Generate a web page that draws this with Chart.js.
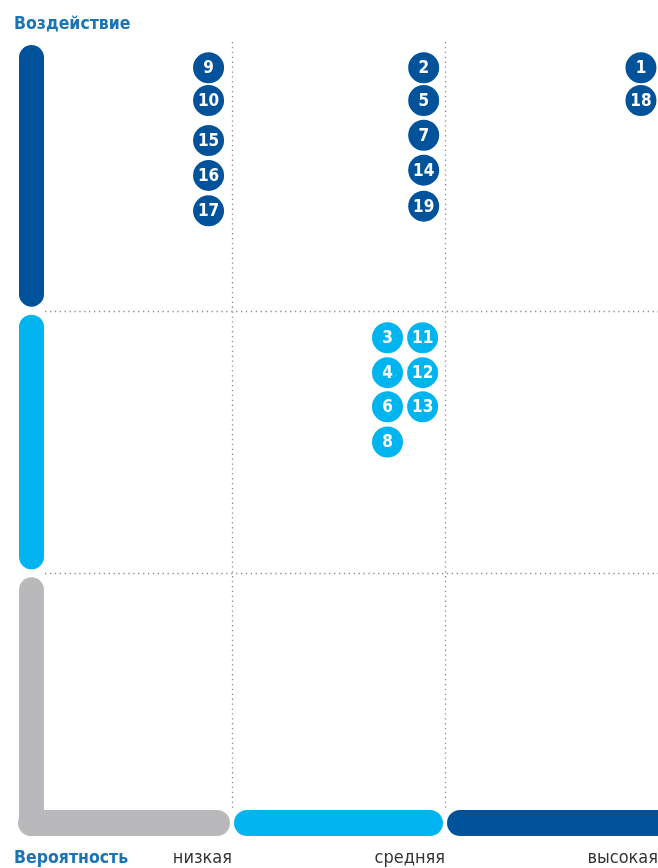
<!DOCTYPE html>
<html>
<head>
<meta charset="utf-8">
<script src="https://cdn.jsdelivr.net/npm/chart.js@4"></script>
<style>
  html, body { margin: 0; padding: 0; background: #fff; }
  #wrap { position: relative; width: 658px; height: 868px; }
  .lbl { position: absolute; font-family: "DejaVu Sans Condensed", "DejaVu Sans", sans-serif; font-weight: bold; color: #1b74b3; font-size: 17.5px; }
</style>
</head>
<body>
<div id="wrap">
  <canvas id="riskChart" width="658" height="868"></canvas>
  <div class="lbl" id="yTitle" style="left:14px; top:13px;">Воздействие</div>
  <div class="lbl" id="xTitle" style="left:14px; top:847px;">Вероятность</div>
</div>
<script>
// шкалы
const levels = ['низкая', 'средняя', 'высокая'];
const levelColors = ['#b9b9bb', '#00b5ef', '#00529b'];

// риски: номер, вероятность, воздействие
const riskIds = [9, 10, 15, 16, 17, 2, 5, 7, 14, 19, 1, 18, 3, 11, 4, 12, 6, 13, 8];
const riskProb = [0.89, 0.89, 0.89, 0.89, 0.89, 1.9, 1.9, 1.9, 1.9, 1.9, 2.92, 2.92, 1.73, 1.895, 1.73, 1.895, 1.73, 1.895, 1.73];
const riskImpact = [2.925, 2.8, 2.648, 2.515, 2.38, 2.925, 2.8, 2.668, 2.535, 2.398, 2.925, 2.8, 1.897, 1.897, 1.764, 1.764, 1.634, 1.634, 1.5];

let points = riskIds.map((id, i) => ({ x: riskProb[i], y: riskImpact[i], id: id }));
let colorFor = (y) => levelColors[Math.min(2, Math.floor(y))];

let gridPlugin = {
    id: 'matrixGrid',
    beforeDatasetsDraw(chart) {
        const {ctx, chartArea, scales} = chart;
        ctx.save();
        ctx.strokeStyle = '#8a8a8a';
        ctx.lineWidth = 1.3;
        ctx.setLineDash([1.3, 3.6]);
        [1, 2].forEach(v => {
            let px = Math.round(scales.x.getPixelForValue(v)) + 0.5;
            ctx.beginPath();
            ctx.moveTo(px, chartArea.top - 6);
            ctx.lineTo(px, chartArea.bottom - 28);
            ctx.stroke();
            let py = Math.round(scales.y.getPixelForValue(v)) + 0.5;
            ctx.beginPath();
            ctx.moveTo(chartArea.left + 26, py);
            ctx.lineTo(chartArea.right, py);
            ctx.stroke();
        });
        ctx.restore();

        // полосы шкал
        const w = 26;
        ctx.save();
        levels.forEach((name, i) => {
            ctx.fillStyle = levelColors[i];
            // вертикальная
            let top = scales.y.getPixelForValue(i + 1) + (i === 2 ? -3 : 4);
            let bottom = i === 0 ? chartArea.bottom : scales.y.getPixelForValue(i) - 4;
            ctx.beginPath();
            ctx.roundRect(chartArea.left, top, w - 1, bottom - top, 12.5);
            ctx.fill();
            // горизонтальная
            let left = i === 0 ? chartArea.left - 1 : scales.x.getPixelForValue(i) + 2;
            let right = i === 2 ? chartArea.right + 20 : scales.x.getPixelForValue(i + 1) - 2;
            ctx.beginPath();
            ctx.roundRect(left, chartArea.bottom - w, right - left, w, 13);
            ctx.fill();
        });
        ctx.restore();
    },
    afterDatasetsDraw(chart) {
        const {ctx} = chart;
        ctx.save();
        ctx.fillStyle = '#ffffff';
        ctx.font = 'bold 17px "DejaVu Sans Condensed", "DejaVu Sans", sans-serif';
        ctx.textAlign = 'center';
        ctx.textBaseline = 'middle';
        chart.getDatasetMeta(0).data.forEach((el, i) => {
            ctx.fillText(String(points[i].id), el.x, el.y + 1);
        });
        ctx.restore();
    }
};

let riskChart = new Chart(document.getElementById('riskChart'), {
    type: 'scatter',
    data: {
        datasets: [{
            data: points,
            backgroundColor: points.map(p => colorFor(p.y)),
            pointRadius: 15.5,
            pointHoverRadius: 15.5,
            borderWidth: 0
        }]
    },
    options: {
        responsive: false,
        animation: false,
        layout: { autoPadding: false, padding: { left: 19, right: 0, top: 48, bottom: 0 } },
        plugins: { legend: { display: false }, tooltip: { enabled: false } },
        scales: {
            x: {
                min: 0, max: 3,
                grid: { display: false, drawTicks: false },
                border: { display: false },
                afterBuildTicks: (axis) => { axis.ticks = [0, 1, 2, 3].map(v => ({ value: v })); },
                afterFit: (axis) => { axis.height = 32; axis.paddingLeft = 0; axis.paddingRight = 0; },
                ticks: {
                    align: 'end',
                    padding: 12,
                    color: '#333333',
                    font: { family: 'DejaVu Sans Condensed', size: 18 },
                    callback: (v) => v > 0 ? levels[v - 1] : ''
                }
            },
            y: {
                min: 0, max: 3,
                grid: { display: false, drawTicks: false },
                border: { display: false },
                afterFit: (axis) => { axis.width = 0; axis.paddingTop = 0; axis.paddingBottom = 0; },
                ticks: { display: false }
            }
        }
    },
    plugins: [gridPlugin]
});
</script>
</body>
</html>
